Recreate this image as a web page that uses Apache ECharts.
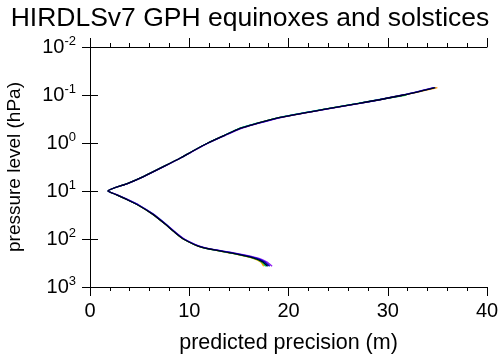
<!DOCTYPE html>
<html>
<head>
<meta charset="utf-8">
<script src="https://cdn.jsdelivr.net/npm/echarts@6/dist/echarts.min.js"></script>
<style>
  html, body { margin: 0; padding: 0; background: #fff; }
  #main { width: 500px; height: 359px; }
</style>
</head>
<body>
<div id="main"></div>
<script>
// pressure levels (hPa), shared by every curve
var pressure = [0.07, 0.1, 0.15, 0.2, 0.3, 0.4, 0.5, 0.7, 1, 1.5, 2, 3, 5, 7, 10, 12, 15, 20, 30, 50, 70, 100, 150, 200, 250, 300, 370];
// predicted precision (m) for each curve
var precBlack  = [34.8, 31.6, 27.1, 23.55, 18.9, 16.65, 15.05, 13.5, 11.88, 10.28, 9.2, 7.54, 5.38, 3.76, 1.81, 2.69, 3.7, 4.91, 6.27, 7.63, 8.45, 9.4, 11.29, 14.44, 16.5, 17.4, 17.9];
var precPurple = [34.6, 31.5, 27.2, 23.7, 19.1, 16.8, 15.2, 13.6, 11.95, 10.35, 9.25, 7.6, 5.42, 3.8, 1.81, 2.75, 3.78, 5.0, 6.35, 7.7, 8.52, 9.5, 11.45, 14.75, 16.95, 17.8, 18.35];
var precBlue   = [34.7, 31.6, 27.1, 23.6, 19.0, 16.7, 15.1, 13.5, 11.88, 10.28, 9.2, 7.54, 5.38, 3.76, 1.81, 2.7, 3.72, 4.95, 6.3, 7.66, 8.48, 9.45, 11.38, 14.6, 16.75, 17.6, 18.1];
var precCyan   = [34.7, 31.5, 27.0, 23.5, 18.9, 16.6, 15.0, 13.5, 11.88, 10.28, 9.2, 7.54, 5.38, 3.76, 1.81, 2.72, 3.76, 4.98, 6.34, 7.7, 8.5, 9.45, 11.32, 14.45, 16.55, 17.4, 17.8];
var precGreen  = [null, 31.9, 27.0, 23.5, 18.9, 16.6, 15.0, 13.5, 11.88, 10.28, 9.2, 7.54, 5.38, 3.76, 1.81, 2.69, 3.7, 4.91, 6.27, 7.63, 8.45, 9.4, 11.29, 14.4, 16.45, 17.3, 17.7];
var precOrange = [35.0, 31.6, 27.1, 23.55, 18.9, 16.65, 15.05, 13.5, 11.88, 10.28, 9.2, 7.54, 5.38, 3.76, 1.81, 2.69, 3.7, 4.91, 6.27, 7.63, 8.45, 9.4, 11.25, 14.35, 16.35, 17.2, 17.5];

var xTicks = [0, 10, 20, 30, 40];
var yTicks = [0.01, 0.1, 1, 10, 100, 1000];

function pairs(prec) {
  return prec.map(function (x, i) { return x == null ? [null, null] : [x, pressure[i]] })
}
function line(name, color, prec, z) {
  return {
    name: name, type: 'line', data: pairs(prec), symbol: 'none',
    smooth: 0.2,
    z: z, connectNulls: false,
    lineStyle: { color: color, width: 1.3 }
  }
}

var font = 'Liberation Sans, Arial, Helvetica, sans-serif'
var axisLine = { lineStyle: { color: '#000', width: 1 } }
var myChart = echarts.init(document.getElementById('main'), null, { renderer: 'canvas' })
myChart.setOption({
  animation: false,
  title: {
    text: 'HIRDLSv7 GPH equinoxes and solstices',
    left: 'center', top: 0,
    textStyle: { fontFamily: font, fontSize: 26.5, fontWeight: 'normal', color: '#000' }
  },
  grid: { left: 90, right: 13, top: 47, bottom: 72, outerBoundsMode: 'none' },
  xAxis: [{
    type: 'value', min: xTicks[0], max: xTicks[xTicks.length - 1], interval: 10,
    name: 'predicted precision (m)', nameLocation: 'middle', nameGap: 45,
    nameTextStyle: { fontFamily: font, fontSize: 21.5, color: '#000' },
    axisLine: axisLine,
    axisTick: { length: 9, lineStyle: { color: '#000' } },
    minorTick: { show: true, splitNumber: 5, length: 4, lineStyle: { color: '#000' } },
    axisLabel: { fontFamily: font, fontSize: 20, color: '#000', margin: 14 },
    splitLine: { show: false }
  }, {
    type: 'value', position: 'top', min: 0, max: 40, interval: 10,
    axisLine: axisLine,
    axisTick: { length: 9, lineStyle: { color: '#000' } },
    minorTick: { show: true, splitNumber: 5, length: 4, lineStyle: { color: '#000' } },
    axisLabel: { show: false },
    splitLine: { show: false }
  }],
  yAxis: [{
    type: 'log', logBase: 10, inverse: true, min: yTicks[0], max: yTicks[yTicks.length - 1],
    name: 'pressure level (hPa)', nameLocation: 'middle', nameGap: 66,
    nameTextStyle: { fontFamily: font, fontSize: 19, color: '#000' },
    axisLine: axisLine,
    axisTick: { length: 8, lineStyle: { color: '#000' } },
    axisLabel: {
      fontFamily: font, fontSize: 20, color: '#000', margin: 14,
      formatter: function (v) {
        var e = Math.round(Math.log10(v))
        return '{b|10}{s|' + e + '}'
      },
      rich: {
        b: { fontFamily: font, fontSize: 20, color: '#000' },
        s: { fontFamily: font, fontSize: 13, color: '#000', verticalAlign: 'bottom', padding: [0, 0, 12, 0] }
      }
    },
    splitLine: { show: false }
  }, {
    type: 'log', logBase: 10, inverse: true, min: 0.01, max: 1000, position: 'right',
    axisLine: axisLine,
    axisTick: { length: 8, lineStyle: { color: '#000' } },
    axisLabel: { show: false },
    splitLine: { show: false }
  }],
  series: [
    line('orange', '#ff9900', precOrange, 2),
    line('green', '#00e000', precGreen, 3),
    line('cyan', '#00d0d0', precCyan, 4),
    line('purple', '#9020f0', precPurple, 5),
    line('blue', '#0000c0', precBlue, 6),
    line('black', '#000020', precBlack, 7)
  ]
})
</script>
</body>
</html>
